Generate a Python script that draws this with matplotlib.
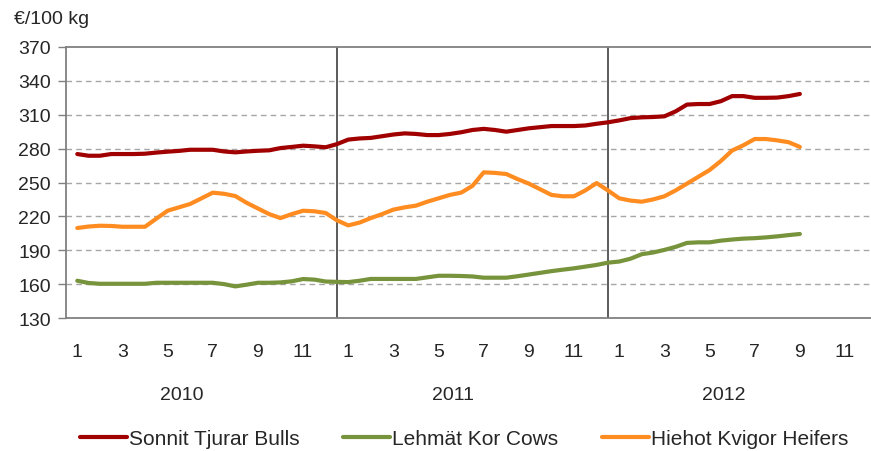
import numpy as np
import matplotlib
matplotlib.use("Agg")
import matplotlib.pyplot as plt
from matplotlib.transforms import blended_transform_factory

plt.rcParams['font.family'] = ['Liberation Sans', 'DejaVu Sans']

# Semi-monthly price observations, Jan 2010 .. Sep 2012 (EUR / 100 kg)
bulls = [275.2, 273.7, 273.7, 275.2, 275.2, 275.2, 275.5, 276.5, 277.3, 278.0,
         279.0, 279.0, 279.0, 277.5, 276.7, 277.5, 278.1, 278.5, 280.5, 281.5,
         282.6, 282.0, 281.2, 284.0, 288.0, 289.0, 289.5, 291.0, 292.5, 293.5,
         293.0, 292.0, 292.0, 293.0, 294.5, 296.5, 297.5, 296.5, 295.0, 296.5,
         298.0, 299.0, 300.0, 300.0, 300.0, 300.5, 302.0, 303.3, 305.0, 307.0,
         307.7, 308.0, 308.6, 313.0, 319.0, 319.5, 319.5, 322.0, 326.5, 326.5,
         325.0, 325.0, 325.2, 326.5, 328.4]
cows = [163.0, 161.0, 160.3, 160.3, 160.3, 160.3, 160.3, 161.2, 161.2, 161.2,
        161.2, 161.2, 161.2, 160.0, 158.0, 159.5, 161.2, 161.2, 161.5, 162.5,
        164.5, 164.0, 162.3, 162.0, 161.8, 163.0, 164.6, 164.6, 164.6, 164.6,
        164.6, 166.0, 167.4, 167.4, 167.2, 166.8, 165.7, 165.7, 165.7, 167.0,
        168.5, 170.0, 171.5, 172.8, 174.0, 175.5, 177.0, 179.0, 180.0, 182.5,
        186.5, 188.0, 190.3, 193.0, 196.5, 197.0, 197.0, 198.5, 199.5, 200.3,
        200.7, 201.4, 202.3, 203.4, 204.4]
heifers = [209.7, 211.0, 211.7, 211.5, 210.8, 210.8, 210.8, 218.0, 225.0, 228.0,
           231.0, 236.0, 241.0, 240.0, 238.0, 232.0, 227.0, 222.0, 218.5, 222.0,
           225.0, 224.5, 223.0, 216.5, 212.0, 214.5, 218.5, 222.0, 226.0, 228.0,
           229.5, 233.0, 236.0, 239.0, 241.0, 247.0, 259.0, 258.5, 257.5, 253.0,
           249.0, 244.0, 239.0, 237.8, 237.8, 243.0, 249.5, 243.0, 236.0, 234.0,
           233.0, 235.0, 237.8, 243.0, 249.0, 255.0, 261.0, 269.0, 278.3, 283.0,
           288.5, 288.5, 287.3, 285.7, 281.5]

years = ["2010", "2011", "2012"]
series_names = ["Sonnit Tjurar Bulls", "Lehmät Kor Cows", "Hiehot Kvigor Heifers"]
series_colors = ["#A00000", "#77933C", "#FF8C21"]

FS = 14
TXT = "#262626"
W, H = 871, 452
fig = plt.figure(figsize=(W / 100, H / 100), dpi=100)
ax = fig.add_axes([66 / W, 1 - 319 / H, (W - 66) / W, (319 - 48) / H])

# x in months since start of 2010; observations every half month from mid-January
x = 0.5 + 0.5 * np.arange(len(bulls))
for vals, name, col in zip([bulls, cows, heifers], series_names, series_colors):
    ax.plot(x, vals, color=col, lw=3.0, label=name, solid_capstyle='round')

ax.set_ylim(130, 370)
ax.set_xlim(0, (W - 66) / 22.58)
ax.set_yticks(np.arange(130, 371, 30))
for v in range(160, 341, 30):
    ax.axhline(v, color="#A6A6A6", lw=1.0, ls=(0, (4, 3)), zorder=0)
for b in (12, 24):
    ax.axvline(b, color="#404040", lw=1.2, zorder=1)

# month tick labels centred in each month slot
xt, xl = [], []
for yi in range(len(years)):
    for m in range(1, 13, 2):
        xt.append(12 * yi + m - 0.5)
        xl.append(str(m))
ax.set_xticks(xt, xl)
ax.tick_params(axis='x', length=0, pad=18, labelsize=FS, labelcolor=TXT)
ax.tick_params(axis='y', length=6, width=1, color="#808080", pad=5,
               labelsize=FS, labelcolor=TXT)

for s in ("left", "bottom", "top"):
    ax.spines[s].set_color("#808080")
    ax.spines[s].set_linewidth(1.3)
ax.spines["right"].set_visible(False)

tr = blended_transform_factory(ax.transData, fig.transFigure)
for yi, yr in enumerate(years):
    ax.text(12 * yi + 5.14, 1 - 396 / H, yr, transform=tr, ha='center',
            va='center', fontsize=FS, color=TXT)

fig.text(14 / W, 1 - 20 / H, "€/100 kg", ha='left', va='center',
         fontsize=FS, color=TXT)

fig.legend(loc='center', bbox_to_anchor=(464 / W, 1 - 440 / H), ncol=3,
           frameon=False, fontsize=15, handlelength=2.25, handletextpad=0.1,
           columnspacing=2.1, labelcolor=TXT)

fig.savefig("out.png", dpi=100)
